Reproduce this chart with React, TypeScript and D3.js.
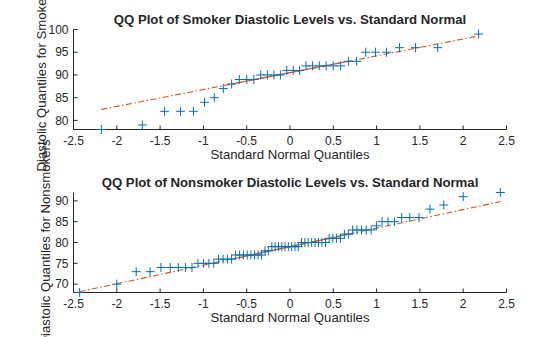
import React from "react";
import * as d3 from "d3";

// Theoretical standard normal quantiles (plotting positions (i-0.5)/n)
const smokerTheo = [
  -2.178, -1.705, -1.45, -1.265, -1.115, -0.987, -0.874, -0.77, -0.674, -0.585,
  -0.499, -0.417, -0.338, -0.261, -0.185, -0.111, -0.037, 0.037, 0.111, 0.185,
  0.261, 0.338, 0.417, 0.499, 0.585, 0.674, 0.77, 0.874, 0.987, 1.115, 1.265,
  1.45, 1.705, 2.178,
];
const smokerValues = [
  78, 79, 82, 82, 82, 84, 85, 87, 88, 89, 89, 89, 90, 90, 90, 90, 91, 91, 91, 92,
  92, 92, 92, 92, 92, 93, 93, 95, 95, 95, 96, 96, 96, 99,
];

const nonsmokerTheo = [
  -2.429, -2.0, -1.776, -1.616, -1.49, -1.383, -1.29, -1.208, -1.132, -1.063,
  -0.998, -0.937, -0.88, -0.826, -0.773, -0.723, -0.674, -0.628, -0.582, -0.538,
  -0.494, -0.452, -0.41, -0.369, -0.329, -0.289, -0.25, -0.21, -0.172, -0.133,
  -0.095, -0.057, -0.019, 0.019, 0.057, 0.095, 0.133, 0.172, 0.21, 0.25, 0.289,
  0.329, 0.369, 0.41, 0.452, 0.494, 0.538, 0.582, 0.628, 0.674, 0.723, 0.773,
  0.826, 0.88, 0.937, 0.998, 1.063, 1.132, 1.208, 1.29, 1.383, 1.49, 1.616,
  1.776, 2.0, 2.429,
];
const nonsmokerValues = [
  68, 70, 73, 73, 74, 74, 74, 74, 74, 75, 75, 75, 75, 76, 76, 76, 76, 77, 77, 77,
  77, 77, 77, 77, 77, 78, 78, 79, 79, 79, 79, 79, 79, 79, 79, 79, 80, 80, 80, 80,
  80, 80, 80, 80, 81, 81, 81, 81, 82, 82, 83, 83, 83, 83, 83, 84, 85, 85, 85, 86,
  86, 86, 88, 89, 91, 92,
];

const xTicks = [-2.5, -2, -1.5, -1, -0.5, 0, 0.5, 1, 1.5, 2, 2.5];
const smokerYTicks = [80, 85, 90, 95, 100];
const nonsmokerYTicks = [70, 75, 80, 85, 90];
const NORMAL_Q3 = 0.6745;

const FONT = "'Liberation Sans', Arial, Helvetica, sans-serif";
const TXT = "#262626";
const BLUE = "#0072BD";
const ORANGE = "#D95319";

function prctile(sorted: number[], p: number) {
  const n = sorted.length;
  const pos = n * p + 0.5;
  if (pos <= 1) return sorted[0];
  if (pos >= n) return sorted[n - 1];
  const lo = Math.floor(pos);
  const f = pos - lo;
  return sorted[lo - 1] + f * (sorted[lo] - sorted[lo - 1]);
}

type PanelProps = {
  theo: number[];
  values: number[];
  yDomain: [number, number];
  yTicks: number[];
  top: number;
  bottom: number;
  title: string;
  ylabel: string;
  ylabelX: number;
};

const LEFT = 73.5;
const RIGHT = 506.5;

function Panel({ theo, values, yDomain, yTicks, top, bottom, title, ylabel, ylabelX }: PanelProps) {
  const x = d3.scaleLinear().domain([-2.5, 2.5]).range([LEFT, RIGHT]);
  const y = d3.scaleLinear().domain(yDomain).range([bottom, top]);
  const sorted = [...values].sort((a, b) => a - b);
  const q1 = prctile(sorted, 0.25);
  const q3 = prctile(sorted, 0.75);
  const slope = (q3 - q1) / (2 * NORMAL_Q3);
  const mid = (q1 + q3) / 2;
  const f = (z: number) => mid + slope * z;
  const x0 = theo[0];
  const x1 = theo[theo.length - 1];
  const line = d3.line<[number, number]>().x((d) => x(d[0])).y((d) => y(d[1]));
  const cx = (LEFT + RIGHT) / 2;
  const cy = (top + bottom) / 2;
  return (
    <g>
      {/* axes */}
      <line x1={LEFT} x2={RIGHT} y1={bottom} y2={bottom} stroke={TXT} strokeWidth={1} />
      <line x1={LEFT} x2={LEFT} y1={top} y2={bottom} stroke={TXT} strokeWidth={1} />
      {xTicks.map((t) => (
        <g key={"x" + t}>
          <line x1={x(t)} x2={x(t)} y1={bottom} y2={bottom - 4} stroke={TXT} strokeWidth={1} />
          <text x={x(t)} y={bottom + 15} textAnchor="middle" fontSize={12} fill={TXT} fontFamily={FONT}>
            {String(t)}
          </text>
        </g>
      ))}
      {yTicks.map((t) => (
        <g key={"y" + t}>
          <line x1={LEFT} x2={LEFT + 4} y1={y(t)} y2={y(t)} stroke={TXT} strokeWidth={1} />
          <text x={LEFT - 5} y={y(t)} dy="0.35em" textAnchor="end" fontSize={12} fill={TXT} fontFamily={FONT}>
            {String(t)}
          </text>
        </g>
      ))}
      {/* reference lines */}
      <path
        d={line([[x0, f(x0)], [x1, f(x1)]]) || ""}
        fill="none"
        stroke={ORANGE}
        strokeWidth={1.1}
        strokeDasharray="6,2.5,1.5,2.5"
      />
      <path
        d={line([[-NORMAL_Q3, q1], [NORMAL_Q3, q3]]) || ""}
        fill="none"
        stroke={ORANGE}
        strokeWidth={1.1}
      />
      {/* markers */}
      {theo.map((t, i) => {
        const px = x(t);
        const py = y(values[i]);
        return (
          <g key={i} stroke={BLUE} strokeWidth={1}>
            <line x1={px - 4.5} x2={px + 4.5} y1={py} y2={py} />
            <line x1={px} x2={px} y1={py - 4.5} y2={py + 4.5} />
          </g>
        );
      })}
      <text x={cx} y={top - 6} textAnchor="middle" fontSize={13.2} fontWeight="bold" fill={TXT} fontFamily={FONT}>
        {title}
      </text>
      <text x={cx} y={bottom + 29.5} textAnchor="middle" fontSize={13.2} fill={TXT} fontFamily={FONT}>
        Standard Normal Quantiles
      </text>
      <text
        transform={`translate(${ylabelX},${cy}) rotate(-90)`}
        textAnchor="middle"
        dy="0.35em"
        fontSize={13.2}
        fill={TXT}
        fontFamily={FONT}
      >
        {ylabel}
      </text>
    </g>
  );
}

export default function App() {
  return (
    <svg
      width={560}
      height={337}
      style={{ position: "absolute", left: 0, top: 0, background: "#fff" }}
    >
      <rect width={560} height={337} fill="#fff" />
      <Panel
        theo={smokerTheo}
        values={smokerValues}
        yDomain={[78, 100]}
        yTicks={smokerYTicks}
        top={29.5}
        bottom={129.5}
        title="QQ Plot of Smoker Diastolic Levels vs. Standard Normal"
        ylabel="Diastolic Quantiles for Smokers"
        ylabelX={41}
      />
      <Panel
        theo={nonsmokerTheo}
        values={nonsmokerValues}
        yDomain={[68, 92]}
        yTicks={nonsmokerYTicks}
        top={192.5}
        bottom={292.5}
        title="QQ Plot of Nonsmoker Diastolic Levels vs. Standard Normal"
        ylabel="Diastolic Quantiles for Nonsmokers"
        ylabelX={45}
      />
    </svg>
  );
}
